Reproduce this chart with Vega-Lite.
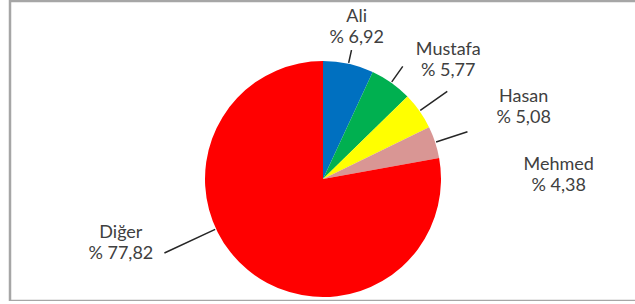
{
  "$schema": "https://vega.github.io/schema/vega-lite/v6.json",
  "width": 630,
  "height": 300,
  "autosize": {"type": "none"},
  "padding": {"left": 10, "top": 1, "right": 0, "bottom": 0},
  "background": "white",
  "config": {"view": {"stroke": null}, "font": "Lato"},
  "layer": [
    {
      "data": {"values": [{"frame": "chart area"}]},
      "mark": {"type": "rect", "fill": null, "stroke": "#a6a6a6", "strokeWidth": 2.5}
    },
    {
      "data": {
        "values": [
          {"name": "Ali", "pct": 6.92, "label": "Ali\n% 6,92", "rank": 1},
          {"name": "Mustafa", "pct": 5.77, "label": "Mustafa\n% 5,77", "rank": 2},
          {"name": "Hasan", "pct": 5.08, "label": "Hasan\n% 5,08", "rank": 3},
          {"name": "Mehmed", "pct": 4.38, "label": "Mehmed\n% 4,38", "rank": 4},
          {"name": "Diğer", "pct": 77.82, "label": "Diğer\n% 77,82", "rank": 5}
        ]
      },
      "encoding": {
        "theta": {"field": "pct", "type": "quantitative", "stack": true},
        "order": {"field": "rank", "type": "quantitative"}
      },
      "resolve": {"scale": {"theta": "independent"}},
      "layer": [
        {
          "mark": {"type": "arc", "outerRadius": 118, "x": 313, "y": 178},
          "encoding": {
            "color": {
              "field": "name",
              "type": "nominal",
              "scale": {
                "domain": ["Ali", "Mustafa", "Hasan", "Mehmed", "Diğer"],
                "range": ["#0070C0", "#00B050", "#FFFF00", "#D99694", "#FF0000"]
              },
              "legend": null
            }
          }
        },
        {
          "mark": {"type": "arc", "x": 313, "y": 178, "innerRadius": 119, "outerRadius": 132, "padAngle": 3, "fill": null, "stroke": "#262626", "strokeWidth": 1.5},
          "encoding": {"strokeOpacity": {"condition": {"test": "datum.name === 'Ali'", "value": 1}, "value": 0}}
        },
        {
          "mark": {"type": "arc", "x": 313, "y": 178, "innerRadius": 119, "outerRadius": 138, "padAngle": 3, "fill": null, "stroke": "#262626", "strokeWidth": 1.5},
          "encoding": {"strokeOpacity": {"condition": {"test": "datum.name === 'Mustafa'", "value": 1}, "value": 0}}
        },
        {
          "mark": {"type": "arc", "x": 313, "y": 178, "innerRadius": 119, "outerRadius": 152, "padAngle": 3, "fill": null, "stroke": "#262626", "strokeWidth": 1.5},
          "encoding": {"strokeOpacity": {"condition": {"test": "datum.name === 'Hasan' || datum.name === 'Mehmed'", "value": 1}, "value": 0}}
        },
        {
          "mark": {"type": "arc", "x": 313, "y": 178, "innerRadius": 119, "outerRadius": 175, "padAngle": 3, "thetaOffset": 2.357, "fill": null, "stroke": "#262626", "strokeWidth": 1.5},
          "encoding": {
            "theta": {"field": "pct", "type": "quantitative", "stack": true, "scale": {"range": [0, 3.1416]}},
            "strokeOpacity": {"condition": {"test": "datum.name === 'Diğer'", "value": 1}, "value": 0}
          }
        },
        {
          "mark": {"type": "text", "x": 313, "y": 178, "radius": 156, "dx": 0, "dy": -10, "fontSize": 18, "lineBreak": "\n", "lineHeight": 21, "align": "center", "baseline": "middle", "color": "#404040"},
          "encoding": {"text": {"condition": {"test": "datum.name === 'Ali'", "field": "label", "type": "nominal"}, "value": ""}}
        },
        {
          "mark": {"type": "text", "x": 313, "y": 178, "radius": 170, "dx": 27, "dy": 10, "fontSize": 18, "lineBreak": "\n", "lineHeight": 21, "align": "center", "baseline": "middle", "color": "#404040"},
          "encoding": {"text": {"condition": {"test": "datum.name === 'Mustafa'", "field": "label", "type": "nominal"}, "value": ""}}
        },
        {
          "mark": {"type": "text", "x": 313, "y": 178, "radius": 205, "dx": 33, "dy": 36, "fontSize": 18, "lineBreak": "\n", "lineHeight": 21, "align": "center", "baseline": "middle", "color": "#404040"},
          "encoding": {"text": {"condition": {"test": "datum.name === 'Hasan'", "field": "label", "type": "nominal"}, "value": ""}}
        },
        {
          "mark": {"type": "text", "x": 313, "y": 178, "radius": 227, "dx": 20, "dy": 57, "fontSize": 18, "lineBreak": "\n", "lineHeight": 21, "align": "center", "baseline": "middle", "color": "#404040"},
          "encoding": {"text": {"condition": {"test": "datum.name === 'Mehmed'", "field": "label", "type": "nominal"}, "value": ""}}
        },
        {
          "mark": {"type": "text", "x": 313, "y": 178, "radius": 178, "dx": -88, "dy": -83, "fontSize": 18, "lineBreak": "\n", "lineHeight": 21, "align": "center", "baseline": "middle", "color": "#404040"},
          "encoding": {"text": {"condition": {"test": "datum.name === 'Diğer'", "field": "label", "type": "nominal"}, "value": ""}}
        }
      ]
    }
  ]
}
